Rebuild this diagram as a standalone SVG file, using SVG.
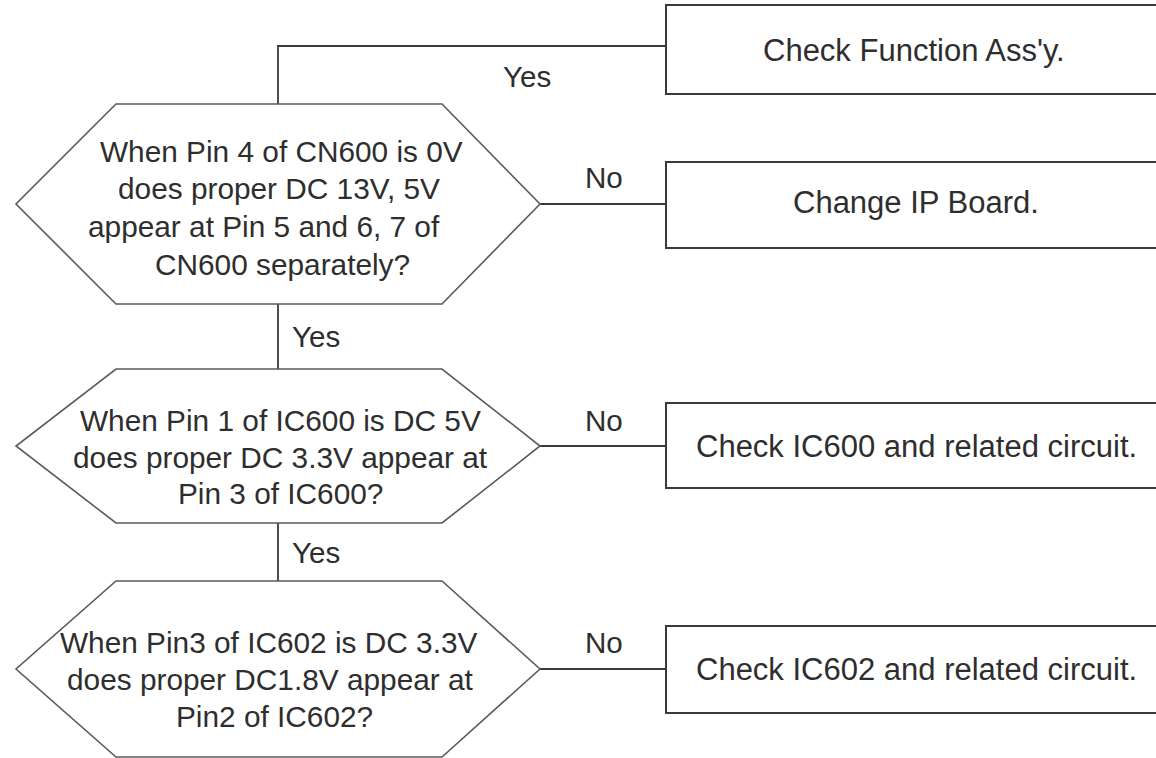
<svg xmlns="http://www.w3.org/2000/svg" width="1156" height="758" viewBox="0 0 1156 758">
<style>
.bg{fill:#ffffff}
.hex{fill:#ffffff;stroke:#5a5a5a;stroke-width:1.6}
.box{fill:#ffffff;stroke:#3a3a3a;stroke-width:2}
.conn{fill:none;stroke:#3a3a3a;stroke-width:1.8}
text{font-family:"Liberation Sans",Arial,sans-serif;fill:#2e2e2e}
.t{font-size:29.8px}
.b{font-size:31px}
.l{font-size:29.6px}
</style>
<rect class="bg" x="0" y="0" width="1156" height="758"/>
<g id="connectors">
<path class="conn" d="M278,104 V46 H666"/>
<path class="conn" d="M540,204 H666"/>
<path class="conn" d="M278,304 V369"/>
<path class="conn" d="M540,446 H666"/>
<path class="conn" d="M278,523 V581"/>
<path class="conn" d="M540,669 H666"/>
<text class="l" x="503" y="87">Yes</text>
<text class="l" x="585" y="188">No</text>
<text class="l" x="292" y="347">Yes</text>
<text class="l" x="585" y="431">No</text>
<text class="l" x="292" y="563">Yes</text>
<text class="l" x="585" y="653">No</text>
</g>
<g id="q1">
<polygon class="hex" points="116,104 442,104 540,204 442,304 116,304 16,204"/>
<text class="t" x="100" y="162">When Pin 4 of CN600 is 0V</text>
<text class="t" x="118" y="199">does proper DC 13V, 5V</text>
<text class="t" x="88" y="237">appear at Pin 5 and 6, 7 of</text>
<text class="t" x="155" y="275">CN600 separately?</text>
</g>
<g id="q2">
<polygon class="hex" points="116,369 442,369 540,446 442,523 116,523 16,446"/>
<text class="t" x="80" y="431">When Pin 1 of IC600 is DC 5V</text>
<text class="t" x="73" y="468">does proper DC 3.3V appear at</text>
<text class="t" x="178" y="504">Pin 3 of IC600?</text>
</g>
<g id="q3">
<polygon class="hex" points="116,581 442,581 540,669 442,757 116,757 16,669"/>
<text class="t" x="60" y="653">When Pin3 of IC602 is DC 3.3V</text>
<text class="t" x="67" y="690">does proper DC1.8V appear at</text>
<text class="t" x="176" y="727">Pin2 of IC602?</text>
</g>
<g id="a1">
<rect class="box" x="666" y="5" width="520" height="89"/>
<text class="b" x="763" y="61">Check Function Ass'y.</text>
</g>
<g id="a2">
<rect class="box" x="666" y="162" width="520" height="86"/>
<text class="b" x="793" y="213">Change IP Board.</text>
</g>
<g id="a3">
<rect class="box" x="666" y="403" width="520" height="85"/>
<text class="b" x="696" y="457">Check IC600 and related circuit.</text>
</g>
<g id="a4">
<rect class="box" x="666" y="626" width="520" height="87"/>
<text class="b" x="696" y="680">Check IC602 and related circuit.</text>
</g>
</svg>
